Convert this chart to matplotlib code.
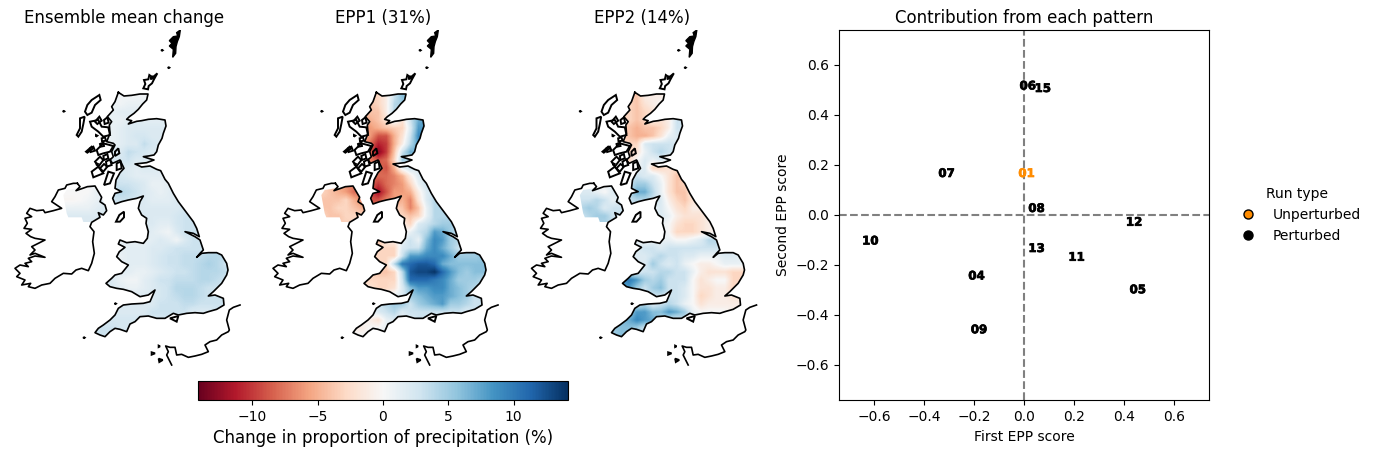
import numpy as np
import matplotlib
matplotlib.use("Agg")
import matplotlib.pyplot as plt
import matplotlib.patheffects as pe
from matplotlib.path import Path
from matplotlib.patches import PathPatch
from matplotlib.lines import Line2D
from matplotlib.colors import Normalize

W, H = 1376, 454

# ---- scatter data
run_labels = ["01", "04", "05", "06", "07", "08", "09", "10", "11", "12", "13", "15"]
epp1_scores = [0.01, -0.19, 0.455, 0.015, -0.31, 0.05, -0.18, -0.615, 0.21, 0.44, 0.05, 0.075]
epp2_scores = [0.166, -0.244, -0.299, 0.516, 0.166, 0.026, -0.459, -0.104, -0.169, -0.029, -0.134, 0.506]

# ---- coastlines (map units)
gb_xy = [(355,217),(372,228),(395,226),(420,222),(444,222),(440,240),(428,252),(415,268),(402,280),(388,290),(380,298),(395,302),(385,312),(410,304),(425,302),(445,298),(470,296),(495,300),(498,318),(490,340),(486,355),(475,375),(470,395),(462,405),(445,408),(430,410),(445,415),(462,420),(440,428),(405,432),(425,441),(450,438),(470,448),(482,452),(495,478),(505,490),(520,520),(535,545),(550,565),(565,585),(580,605),(590,625),(598,650),(580,640),(555,635),(585,650),(600,660),(610,690),(600,700),(590,712),(605,700),(625,698),(650,698),(665,705),(680,730),(684,750),(680,765),(665,790),(655,800),(640,815),(625,828),(645,825),(670,835),(672,855),(650,868),(625,875),(610,880),(585,878),(560,880),(535,885),(520,880),(495,895),(470,895),(445,888),(420,890),(405,905),(390,912),(380,935),(360,928),(345,925),(330,935),(315,950),(300,945),(285,938),(295,925),(310,915),(330,900),(345,885),(355,865),(370,855),(395,852),(430,850),(450,845),(465,810),(445,825),(420,830),(395,815),(370,808),(350,805),(330,800),(318,790),(335,775),(345,765),(365,760),(385,735),(365,725),(350,710),(358,695),(375,682),(355,672),(360,660),(380,668),(405,665),(430,670),(442,655),(445,635),(438,610),(440,595),(425,585),(415,565),(420,545),(430,528),(410,535),(385,540),(365,545),(345,552),(338,535),(345,520),(365,515),(345,505),(348,480),(360,458),(372,445),(360,420),(338,430),(330,420),(340,410),(335,395),(345,375),(340,370),(320,365),(330,340),(328,315),(335,305),(322,290),(340,270),(335,260),(345,245),(355,217)]
gb_x = [p[0] for p in gb_xy]
gb_y = [p[1] for p in gb_xy]
ie_xy = [(232,490),(240,500),(228,512),(248,505),(262,500),(285,498),(295,515),(305,532),(300,545),(315,555),(320,572),(310,585),(295,578),(300,592),(275,607),(270,620),(282,635),(278,665),(283,700),(275,730),(265,752),(245,745),(228,750),(215,762),(190,760),(165,775),(150,790),(125,795),(105,805),(85,800),(92,790),(65,795),(75,780),(50,770),(60,760),(45,745),(60,735),(85,740),(75,730),(95,725),(85,715),(105,708),(135,712),(105,700),(90,705),(105,690),(95,680),(115,670),(135,660),(105,655),(92,650),(78,640),(95,628),(72,625),(82,610),(75,595),(95,590),(80,580),(90,565),(110,572),(130,570),(135,578),(160,572),(185,565),(155,545),(165,530),(175,510),(195,505),(200,495),(220,490),(232,490)]
ie_x = [p[0] for p in ie_xy]
ie_y = [p[1] for p in ie_xy]
ni_x = [190,200,232,248,262,285,295,305,315,320,300,272,250,245,205,200,190]
ni_y = [525,510,505,505,500,498,515,532,555,572,592,606,606,592,592,580,570]

solid_islands = [
    [(541,30),(530,38),(533,48),(520,50),(508,62),(516,70),(508,78),(520,88),(518,112),(527,100),(528,80),(532,65),(538,50),(541,30)],
    [(452,172),(458,168),(460,176),(452,178),(452,172)],
]
line_islands = [
    [(432,180),(445,178),(448,165),(458,172),(472,160),(462,178),(456,190),(446,198),(444,208),(430,205),(436,192),(432,180)],
    [(255,275),(262,255),(275,240),(298,225),(302,240),(285,255),(275,278),(262,285),(255,275)],
    [(240,295),(254,290),(250,312),(245,335),(235,350),(230,345),(240,325),(240,295)],
    [(270,305),(295,300),(305,320),(325,322),(330,345),(310,350),(295,335),(275,320),(270,305)],
    [(258,395),(275,380),(280,385),(262,398),(258,395)],
    [(290,390),(310,370),(340,378),(330,395),(310,400),(295,405),(290,390)],
    [(285,425),(300,410),(310,420),(295,440),(285,425)],
    [(275,455),(295,440),(310,460),(280,472),(275,455)],
    [(325,455),(342,460),(330,490),(312,495),(325,455)],
    [(350,430),(362,425),(365,445),(350,450),(350,430)],
    [(348,605),(358,585),(372,575),(372,592),(360,605),(348,605)],
    [(510,895),(535,888),(530,905),(510,895)],
    [(190,272),(193,274),(190,276),(190,272)],
    [(485,89),(488,91),(485,93),(485,89)],
    [(505,141),(508,143),(505,145),(505,141)],
    [(251,951),(254,953),(251,955),(251,951)],
    [(345,849),(348,851),(345,853),(345,849)],
    [(455,997),(465,1000),(455,1004),(455,997)],
    [(476,1016),(488,1020),(478,1026),(476,1016)],
    [(476,977),(480,979),(476,981),(476,977)],
    [(288,345),(292,347),(288,350),(288,345)],
    [(290,430),(294,432),(290,436),(290,430)],
    [(305,355),(315,352),(318,362),(306,364),(305,355)],
    [(300,372),(310,368),(312,378),(302,380),(300,372)],
    [(270,385),(280,380),(285,392),(272,396),(270,385)],
    [(310,408),(322,402),(325,415),(312,420),(310,408)],
    [(300,445),(312,432),(322,440),(310,455),(300,445)],
    [(318,425),(330,418),(335,435),(320,440),(318,425)],
    [(345,395),(355,385),(358,400),(345,408),(345,395)],
    [(285,305),(298,290),(305,302),(292,312),(285,305)],
    [(312,300),(322,292),(326,308),(314,312),(312,300)],
]
france_x = [720,700,688,680,688,685,665,650,630,615,625,605,585,565,545,530,525,510,497,505,500,515]
france_y = [855,862,870,900,930,935,945,960,965,975,995,1003,1008,1012,1003,1005,982,982,978,995,1005,1035]

# ---- gridded precipitation-proportion change (%)
row_starts = [7,6,6,6,6,6,5,6,6,7,7,6,6,6,9,10,10,10,7,7,6,8,6,5,5,9,7,6,5,4,4]
ni_rows_start = 12

mean_rows = [
 [0.5,0.3,0.5,0.5],[1,0.5,1,1,1],[1,1.5,1.5,1.5],[1,1,1.5,2,1.5,1.5,1.5],[1,1.5,2,2,2,2,2],
 [1,1.5,2,2.5,2.5,2,2],[1,1,1.5,2,2,3.5,2.5,2],[2,2,3.5,3,2.5,2],[2,2.5,3,2,2],[2,2,1.5,2,2],
 [2.5,2,1.5,1.5,1.5,1.5],[3,3,3,2.5,2,1,1,1.5],[3,4,3.5,3,2,1.5,1,1.5,2],[3,3,3,2.5,2,1.5,1.5,1.5,2],
 [2,2,2,2,2,2,2.5],[2,2,2,2,2.5,3,3],[2,2,1.5,1.5,2.5,3,3],[2,1.5,1,0.5,2,3,3,3],
 [1,1,1,1,1.5,2,1.5,0.5,2,3,3],[1.5,1.5,1.5,1.5,2,2,2.5,3,3,3,3],
 [1,1,1.5,1.5,1.5,2,2.5,3,3,3.5,3.5,3.5,4,4],[1.5,1.5,1.5,2,2.5,3,3,3.5,3.5,4,4.5,4,3],
 [1,1.5,1.5,1,1,1.5,2,2.5,3,3,3.5,4,4,4,3.5],[2,2,1,0.5,0.5,1.5,2,3,3,3.5,3.5,3.5,4,4,3.5,3],
 [2,2,1.5,1,1,1.5,2,2.5,3,4,4,4,3.5,3,3],[2,2,2,2.5,3,3.5,4,4,3.5,3,3],
 [2,2,2,2,2,3,3,3,3.5,3.5,3,3,3,3],[2,2,2,2,2,3,3,3,3,3,2,2,2],
 [2,2.5,2.5,2.5,2.5,2.5,2.5,2.5],[3,3,3,2.5,2.5],[3,3]]
mean_ni = [[0,0,0,0,1,1],[-0.3,-0.3,0,0.5,1,1.5],[1,1,1,1,1.5,2],[2,2,2,2,2,2.5]]

epp1_rows = [
 [-3,-1,3,6],[-4,-3,-1,4,5],[-4,-4,-1,4],[-5,-4,-2,1,-2,3,7],[-6,-5,-4,-3.5,-3,2,8],
 [-6,-9,-9,-5,-2,3,9],[-4,-8,-11,-10,-5,-1,4,8],[-8,-13,-10,-4,3,7],[-7,-9,-8,-3,5],[-8,-9,-5,1,3],
 [-8,-8,-7,-5,-1,2],[-8,-10,-8,-7,-6,-3,1,3],[-9,-12,-9,-6,-6,-5,-1,2,3],[-9,-9,-7,-6,-5,-7,-2,2,4],
 [-3,-4,-7,-4,1,4,4],[-3,-4,-3,1,4,4,4],[-1,-3,2,3,4,5,5],[-1,1,3,4,8,7,5,3],
 [-4,-1,-1,1,3,1,6,9,8,5,4],[-3,-3,-3,2,3,3,7,9,7,5,3],
 [-3,-3,-3,-3,3,8,8,9,9,9,7,5,5,5],[-3,4,10,11,12,12,11,7,6,6,6,6,6],
 [-3,-4,-4,-3,4,12,13,13,14,11,8,6,5,6,6],[-3,-3,-3,-3,-3,3,11,11,11,10,9,7,5,5,5,4],
 [-3,-2,-3,-3,-2,2,6,8,8,9,9,7,6,5,4],[1,2,5,6,7,8,8,7,6,5,3],
 [3,4,5,5,3,5,6,7,8,5,5,4,3,3],[1,2,3,4,2,3,3,3,3,3,3,3,2],
 [0,-1,-2,1,2,1,2,3],[-1,-1,0,0,1],[0,0]]
epp1_ni = [[-3,-4,-5,-6,-8,-7],[-4,-4,-4,-3,-5,-7],[-4,-4,-3,-3,-4,-5],[-3,-4,-4,-3,-3,-3]]

epp2_rows = [
 [-4,-1,-1,-1],[-3,-4,-2,-1,0],[-3,-4,-3,-2],[-3,-4,-3,-1,-2,-1,3],[-4,-5,-4,-4,-3,-1,3],
 [-4,-5,-5,-4,-2,1,2],[-3,-3,-3,2,3,3,3,2],[-3,-2,1,3,4,3],[-3,0,2,1,2],[1,2,-3,-3,-2],
 [3,2,2,0,-2,-4],[3,5,5,3,1,-2,-4,-3],[4,7,7,4,1,-2,-4,-4,-1],[3,4,4,3,2,-1,-3,-4,-2],
 [1,2,0,-2,-3,-1,-1],[2,1,-1,-2,-2,-2,-1],[1,0,-2,-3,-3,-2,-1],[1,0,-3,-3,-3,-2,-1,0],
 [1,0,1,1,1,0,0,1,2,4,4],[2,3,3,2,3,3,3,3,3,3,3],
 [2,2,2,3,4,3,3,2,2,1,1,1,2,2],[2,5,3,2,3,1,0,-1,-1,0,1,1,1],
 [2,2,3,3,4,4,3,3,1,-1,-2,-2,-2,-3,-3],[9,10,8,5,4,5,3,3,3,0,-2,-1,0,0,-3,-3],
 [6,8,5,3,5,6,3,3,2,0,-2,-2,-1,-1,-3],[3,3,3,3,2,0,-3,-2,-1,-1,-2],
 [3,4,2,3,4,3,1,0,-2,-1,-1,-1,-1,-1],[5,8,8,6,6,8,7,5,1,0,0,0,0],
 [6,7,9,8,7,4,3,2],[5,6,6,5,3],[5,6]]
epp2_ni = [[2,2,1,0,2,3],[3,3,4,3,1,2],[4,5,4,2,3,3],[3,4,5,5,3,3]]

panel_titles = ["Ensemble mean change", "EPP1 (31%)", "EPP2 (14%)"]
panel_rows = [mean_rows, epp1_rows, epp2_rows]
panel_ni = [mean_ni, epp1_ni, epp2_ni]
vlim = 14.17


def build_grid(rows, ni):
    g = np.full((len(row_starts), 21), np.nan)
    for j, (s, r) in enumerate(zip(row_starts, rows)):
        g[j, s:s + len(r)] = r
    for j, r in enumerate(ni):
        g[ni_rows_start + j, :len(r)] = r
    # pad outward so that smoothing does not eat into the coast
    for _ in range(3):
        new = g.copy()
        for j, i in zip(*np.where(np.isnan(g))):
            nb = g[max(j - 1, 0):j + 2, max(i - 1, 0):i + 2]
            if np.isfinite(nb).any():
                new[j, i] = np.nanmean(nb)
        g = new
    return g


def closed_path(xs, ys):
    v = list(zip(xs, ys))
    return v, [Path.MOVETO] + [Path.LINETO] * (len(v) - 2) + [Path.CLOSEPOLY]


def px_axes(fig, left, top, right, bottom):
    return fig.add_axes([left / W, 1 - bottom / H, (right - left) / W, (bottom - top) / H])


fig = plt.figure(figsize=(W / 100, H / 100), dpi=100)
norm = Normalize(-vlim, vlim)
panel_centres = [124.5, 383, 642]
z_shift = [0, 0.5, 1.0]
for k, c in enumerate(panel_centres):
    ax = px_axes(fig, c - 120, 30, c + 120, 367)
    left = (124.5 - 120) * 3 + z_shift[k] * 3
    im = ax.imshow(build_grid(panel_rows[k], panel_ni[k]), cmap="RdBu", norm=norm,
                   extent=(180, 684, 960, 216), interpolation="bilinear", aspect="auto")
    ax.set_xlim(left, left + 720)
    ax.set_ylim(1041, 30)
    ax.axis("off")
    v1, c1 = closed_path(gb_x, gb_y)
    v2, c2 = closed_path(ni_x, ni_y)
    clip = PathPatch(Path(v1 + v2, c1 + c2), transform=ax.transData, fc="none", ec="none")
    ax.add_patch(clip)
    im.set_clip_path(clip)
    ax.plot(gb_x, gb_y, color="k", lw=1.2)
    ax.plot(ie_x, ie_y, color="k", lw=1.2)
    ax.plot(france_x, france_y, color="k", lw=1.2, clip_on=False)
    for isl in line_islands:
        ax.fill([p[0] for p in isl], [p[1] for p in isl], fc="none", ec="k", lw=1.4)
    for isl in solid_islands:
        ax.fill([p[0] for p in isl], [p[1] for p in isl], fc="k", ec="k", lw=1.0)
    ax.set_title(panel_titles[k], fontsize=12, pad=5)

cax = px_axes(fig, 198, 381, 568, 400)
sm = plt.cm.ScalarMappable(norm=norm, cmap="RdBu")
cb = fig.colorbar(sm, cax=cax, orientation="horizontal")
cb.set_ticks([-10, -5, 0, 5, 10])
cb.set_label("Change in proportion of precipitation (%)", fontsize=12)

ax = px_axes(fig, 839, 30, 1209, 400)
ax.set_xlim(-0.74, 0.74)
ax.set_ylim(-0.74, 0.74)
ax.axhline(0, color="gray", ls="--", lw=1.5)
ax.axvline(0, color="gray", ls="--", lw=1.5)
for lab, x, y in zip(run_labels, epp1_scores, epp2_scores):
    col = "darkorange" if lab == "01" else "k"
    ax.text(x, y, lab, color=col, ha="center", va="center", fontsize=8.5, fontweight="bold",
            path_effects=[pe.withStroke(linewidth=0.5, foreground=col)])
ax.set_title("Contribution from each pattern", fontsize=12, pad=5)
ax.set_xlabel("First EPP score", labelpad=4.5)
ax.set_ylabel("Second EPP score")
ax.set_xticks([-0.6, -0.4, -0.2, 0, 0.2, 0.4, 0.6])
ax.set_yticks([-0.6, -0.4, -0.2, 0, 0.2, 0.4, 0.6])
handles = [
    Line2D([], [], ls="", marker="o", mfc="darkorange", mec="k", ms=6.5, label="Unperturbed"),
    Line2D([], [], ls="", marker="o", mfc="k", mec="k", ms=6.5, label="Perturbed"),
]
ax.legend(handles=handles, title="Run type", frameon=False, loc="center left",
          bbox_to_anchor=(1.052, 0.5), borderaxespad=0)
fig.savefig("out.png", dpi=100)
